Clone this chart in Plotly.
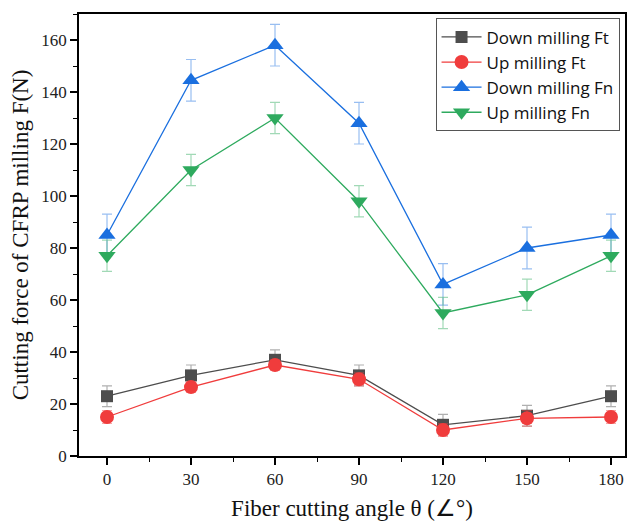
import plotly.graph_objects as go

angles = [0, 30, 60, 90, 120, 150, 180]
down_ft = [23, 31, 37, 31, 12, 15.5, 23]
down_ft_err = [4, 4, 3.8, 4, 4, 4, 4]
up_ft = [15, 26.5, 35, 29.5, 10, 14.5, 15]
up_ft_err = [2.5, 2, 2, 2.5, 2.5, 3, 2.5]
down_fn = [85, 144.5, 158, 128, 66, 80, 85]
down_fn_err = [8, 8, 8, 8, 8, 8, 8]
up_fn = [77, 110, 130, 98, 55, 62, 77]
up_fn_err = [6, 6, 6, 6, 6, 6, 6]

series = [
    ("Down milling Ft", down_ft, down_ft_err, "#4d4d4d", "rgba(77,77,77,0.45)", "square", 12),
    ("Up milling Ft", up_ft, up_ft_err, "#f03c3c", "rgba(240,60,60,0.45)", "circle", 14),
    ("Down milling Fn", down_fn, down_fn_err, "#1a6fdf", "rgba(26,111,223,0.45)", "triangle-up", 15),
    ("Up milling Fn", up_fn, up_fn_err, "#2eaa5e", "rgba(46,170,94,0.45)", "triangle-down", 15),
]

fig = go.Figure()
for name, vals, errs, col, ecol, sym, sz in series:
    fig.add_trace(go.Scatter(
        x=angles, y=vals, name=name, mode="lines+markers",
        line=dict(color=col, width=1.3),
        marker=dict(symbol=sym, size=sz, color=col),
        error_y=dict(type="data", array=errs, visible=True, color=ecol, thickness=1.2, width=5),
    ))

serif = "Liberation Serif, Times New Roman, serif"
axis_common = dict(
    showline=True, linecolor="black", linewidth=1.6, mirror=True,
    ticks="outside", ticklen=7, tickwidth=1.6, tickcolor="black",
    showgrid=False, zeroline=False,
    tickfont=dict(family=serif, size=17, color="#222"),
)

fig.update_layout(
    width=630, height=522,
    margin=dict(l=79, r=5, t=14, b=66, autoexpand=False),
    plot_bgcolor="white", paper_bgcolor="white",
    xaxis=dict(range=[-10, 185], tickvals=angles,
               minor=dict(ticks="outside", ticklen=4, tickwidth=1.4, tickcolor="black", dtick=15, tick0=0),
               title=dict(text="Fiber cutting angle θ (∠°)", font=dict(family=serif, size=23, color="#111"), standoff=12),
               **axis_common),
    yaxis=dict(range=[0, 170], tickvals=[0, 20, 40, 60, 80, 100, 120, 140, 160],
               minor=dict(ticks="outside", ticklen=4, tickwidth=1.4, tickcolor="black", dtick=10, tick0=0),
               title=dict(text="Cutting force of CFRP milling F(N)", font=dict(family=serif, size=23, color="#111"), standoff=6),
               **axis_common),
    legend=dict(x=0.99, y=0.99, xanchor="right", yanchor="top",
                bordercolor="#555", borderwidth=1, bgcolor="white",
                font=dict(family="Open Sans", size=17, color="#111"),
                tracegroupgap=0, itemwidth=40),
    showlegend=True,
)

fig.write_html("out.html", config={"displayModeBar": False},
               post_script="document.body.style.margin='0';")
